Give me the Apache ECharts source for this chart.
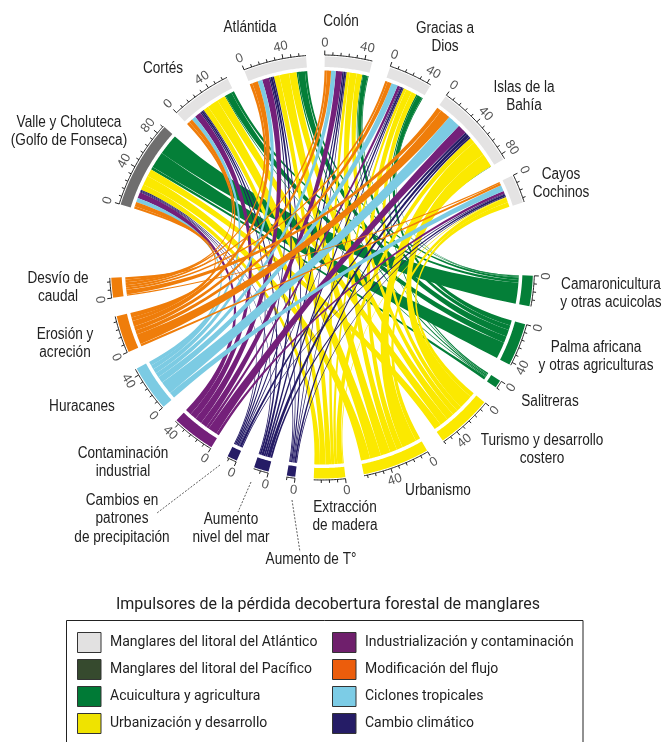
<!DOCTYPE html>
<html><head><meta charset="utf-8">
<style>html,body{margin:0;padding:0;background:#fff}#c{width:665px;height:742px}</style>
<script src="https://cdn.jsdelivr.net/npm/echarts@6/dist/echarts.min.js"></script>
</head><body><div id="c"></div>
<script>
// ---- data: clockwise from Valle y Choluteca ----
const regions = ['Valle y Choluteca\n(Golfo de Fonseca)','Cortés','Atlántida','Colón','Gracias a\nDios','Islas de la\nBahía','Cayos\nCochinos'];
const drivers = ['Camaronicultura\ny otras acuicolas','Palma africana\ny otras agriculturas','Salitreras','Turismo y desarrollo\ncostero','Urbanismo','Extracción\nde madera','Aumento de T°','Aumento\nnivel del mar','Cambios en\npatrones\nde precipitación','Contaminación\nindustrial','Huracanes','Erosión y\nacreción','Desvío de\ncaudal'];
// one list per driver, values per region (Valle, Cortés, Atlántida, Colón, Gracias, Islas, Cayos)
const camaronicultura = [22.5,3,2.5,1,1,0.5,0];
const palma           = [18,7,7.5,5,5.5,0,0];
const salitreras      = [3,1,1.5,1,1.5,0,0];
const turismo         = [8,9,8,6,5.5,15,5];
const urbanismo       = [10,12,10.5,7.5,6.5,16,5];
const extraccion      = [6,6,6,3.5,3,6,1];
const aumentoT        = [1,1,1.5,1,1,2,1];
const nivelMar        = [1,2,2.5,2,2,3.5,2];
const precipitacion   = [1,1.5,1.5,1.5,1,2.5,1];
const contaminacion   = [6.5,7,7.5,7,3,10,3];
const huracanes       = [4.5,4.5,5,5,7,14,6.5];
const erosion         = [5,4,6,4.5,4.5,11,2.5];
const desvio          = [2.5,3,3,2.5,2.5,5,1.5];
const groupNames = ['Manglares del litoral del Atlántico','Manglares del litoral del Pacífico','Acuicultura y agricultura','Urbanización y desarrollo','Cambio climático','Industrialización y contaminación','Ciclones tropicales','Modificación del flujo'];
const legendCol1 = ['Manglares del litoral del Atlántico','Manglares del litoral del Pacífico','Acuicultura y agricultura','Urbanización y desarrollo'];
const legendCol2 = ['Industrialización y contaminación','Modificación del flujo','Ciclones tropicales','Cambio climático'];
const chartTitle = 'Impulsores de la pérdida decobertura forestal de manglares';

// ---- layout and style ----
const FONT = '"Liberation Sans",sans-serif';
const LEGEND_FONT = 'Roboto,sans-serif';
const driverRows = [camaronicultura,palma,salitreras,turismo,urbanismo,extraccion,aumentoT,nivelMar,precipitacion,contaminacion,huracanes,erosion,desvio];
const driverGroup = [2,2,2,3,3,3,4,4,4,5,6,7,7];
const groupColor = ['#e4e3e3','#364a2e','#047f38','#fbe900','#251c66','#74207a','#7ccbe3','#ef7d0a'];
const legendColor = ['#e2e1e1','#364a2e','#007a36','#efe300','#251c66','#6f1f6c','#7ccce6','#ec5d0c'];
const R_AXIS=212.5, R_OUT=211, R_IN=200.5, R_RIB=197, GAP=18.5, BIG=74, TICK=8, PULL=0.42, SQUEEZE=0.85;

const sum=a=>a.reduce((x,y)=>x+y,0);
const regionVal = regions.map((_,r)=>sum(driverRows.map(row=>row[r])));
const driverVal = driverRows.map(sum);
const nodes=[]; let cursor=0;
regions.forEach((n,i)=>{nodes.push({name:n,start:cursor,value:regionVal[i],group:i===0?1:0,color:i===0?'#6f6e6e':groupColor[0]});
  cursor+=regionVal[i]+(i===regions.length-1?BIG:GAP);});
drivers.forEach((n,i)=>{nodes.push({name:n,start:cursor,value:driverVal[i],group:driverGroup[i],color:groupColor[driverGroup[i]]});
  cursor+=driverVal[i]+(i===drivers.length-1?BIG:GAP);});
const TOTAL=cursor;

const links=[];
const regionCursor=nodes.slice(0,regions.length).map(n=>n.start);
for(let d=drivers.length-1;d>=0;d--){for(let r=0;r<regions.length;r++){const v=driverRows[d][r];if(v>0){links.push({r,d,v,a0:regionCursor[r],a1:regionCursor[r]+v});regionCursor[r]+=v;}}}
drivers.forEach((_,d)=>{let c=nodes[regions.length+d].start;for(let r=regions.length-1;r>=0;r--){const l=links.find(k=>k.r===r&&k.d===d);if(l){l.b0=c;l.b1=c+l.v;c+=l.v;}}});

function arcPts(api,r,a0,a1){const n=Math.max(2,Math.ceil((a1-a0)/1.5)),p=[];for(let i=0;i<=n;i++)p.push(api.coord([r,a0+(a1-a0)*i/n]));return p;}
// edge between two ends: leaves each end radially, so bundles stay together before fanning out
function edge(api,p,q){
  const c=api.coord([0,0]);
  const c1=[c[0]+(p[0]-c[0])*PULL,c[1]+(p[1]-c[1])*PULL], c2=[c[0]+(q[0]-c[0])*PULL,c[1]+(q[1]-c[1])*PULL];
  const o=[];
  for(let i=1;i<32;i++){const t=i/32,u=1-t,a=u*u*u,b=3*u*u*t,d=3*u*t*t,e=t*t*t;
    o.push([a*p[0]+b*c1[0]+d*c2[0]+e*q[0],a*p[1]+b*c1[1]+d*c2[1]+e*q[1]]);}
  return o;
}
function renderRibbon(api,l,color){
  const A=arcPts(api,R_RIB,l.a0,l.a1), B=arcPts(api,R_RIB,l.b0,l.b1);
  const pts=[...A,...edge(api,A[A.length-1],B[0]),...B,...edge(api,B[B.length-1],A[0])];
  return {type:'polygon',shape:{points:pts},style:{fill:color}};
}
function renderNode(api,n){
  const ch=[];
  const a1=n.start+n.value;
  ch.push({type:'polygon',shape:{points:[...arcPts(api,R_OUT,n.start,a1),...arcPts(api,R_IN,n.start,a1).reverse()]},style:{fill:n.color}});
  ch.push({type:'polyline',shape:{points:arcPts(api,R_AXIS,n.start,a1)},style:{stroke:'#222',lineWidth:1,fill:null}});
  for(let v=0;v<=n.value;v+=TICK){
    const major=v%40===0;
    ch.push({type:'polyline',shape:{points:[api.coord([R_AXIS,n.start+v]),api.coord([R_AXIS+(major?4.5:3),n.start+v])]},style:{stroke:'#222',lineWidth:1,fill:null}});
    if(major){
      const p=api.coord([R_AXIS+12,n.start+v]);
      const c=api.coord([0,0]);
      const th=Math.atan2(p[0]-c[0],c[1]-p[1]);
      const down=Math.cos(th)<0;
      ch.push({type:'text',x:p[0],y:p[1],rotation:down?-(th-Math.PI):-th,style:{text:String(v),fill:'#555',fontSize:13,fontFamily:FONT,align:'center',verticalAlign:'middle'}});
    }
  }
  return {type:'group',children:ch};
}
const series=groupNames.map((name,g)=>{
  const items=[];
  links.forEach(l=>{if(driverGroup[l.d]===g)items.push({link:l});});
  nodes.forEach(n=>{if(n.group===g)items.push({node:n});});
  return {type:'custom',name,coordinateSystem:'polar',clip:false,silent:true,
    itemStyle:{color:legendColor[g]},
    data:items.map((it,i)=>[it.link?it.link.v:it.node.value,i]),
    renderItem:(p,api)=>{const it=items[p.dataIndex];return it.link?renderRibbon(api,it.link,groupColor[g]):renderNode(api,it.node);}
  };
});

const placeRegions=[[69,122],[163,68],[250,27],[341,21],[445,28],[524,87],[561,174]];
const placeDrivers=[[611,284],[596,347],[550,401],[542,440],[438,490],[345,507],[311,559],[231,519],[122,500],[123,453],[82,406],[65,334],[58,278]];
const labelOf=(name,pos)=>({type:'text',x:pos[0],y:pos[1]-9,scaleX:SQUEEZE,style:{text:name,fill:'#222',fontSize:16,lineHeight:18.5,fontFamily:FONT,align:'center',verticalAlign:'top'},silent:true});
const leader=(p,q)=>({type:'line',shape:{x1:p[0],y1:p[1],x2:q[0],y2:q[1]},style:{stroke:'#333',lineWidth:0.8,lineDash:[2,1.5]},silent:true});
const graphics=[
  {type:'rect',shape:{x:66.5,y:620.5,width:516.5,height:160},style:{fill:'none',stroke:'#222',lineWidth:1},z:-1,silent:true},
  ...regions.map((n,i)=>labelOf(n,placeRegions[i])),
  ...drivers.map((n,i)=>labelOf(n,placeDrivers[i])),
  leader([220,465],[157,513]),leader([251,482],[238,512]),leader([292,500],[300,552])
];
const legendCommon={orient:'vertical',top:632,padding:0,icon:'rect',itemWidth:23.5,itemHeight:20,itemGap:6,selectedMode:false,
  itemStyle:{borderColor:'#333',borderWidth:1},
  textStyle:{fontFamily:LEGEND_FONT,fontSize:14,lineHeight:16,height:16,color:'#222',padding:[0,0,0,4]}};

const chart=echarts.init(document.getElementById('c'),null,{renderer:'canvas'});
chart.setOption({
  animation:false,backgroundColor:'#fff',
  title:{text:chartTitle,left:328,top:597,textAlign:'center',padding:0,textStyle:{fontFamily:LEGEND_FONT,fontSize:16,fontWeight:'normal',color:'#222'}},
  polar:{center:[322,267.5],radius:R_AXIS},
  angleAxis:{type:'value',min:0,max:TOTAL,startAngle:162.6,clockwise:true,show:false},
  radiusAxis:{type:'value',min:0,max:R_AXIS,show:false},
  legend:[{...legendCommon,left:77,data:legendCol1},{...legendCommon,left:332,data:legendCol2}],
  graphic:graphics,
  series
});
</script></body></html>
